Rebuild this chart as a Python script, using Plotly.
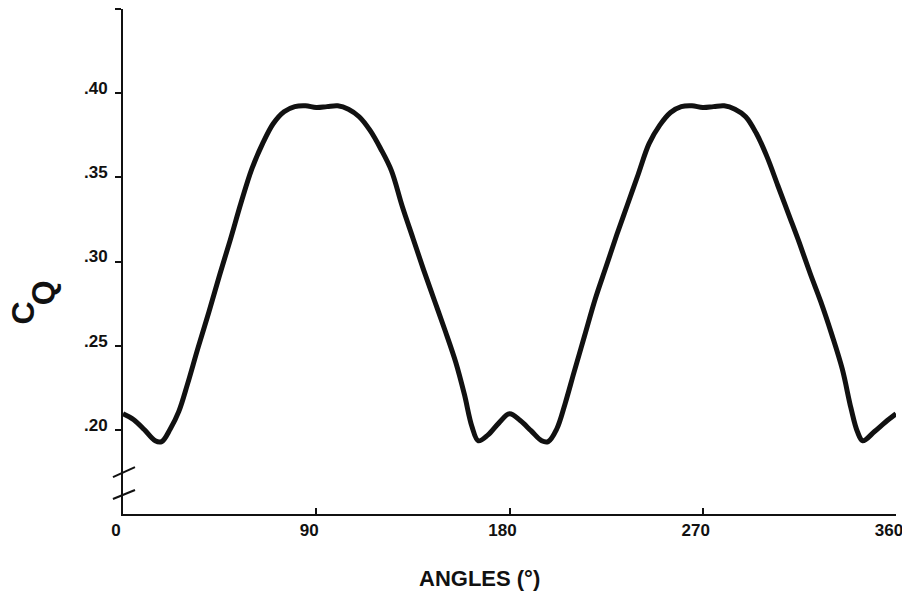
import plotly.graph_objects as go

# Data
angles = [0, 5, 10, 15, 18, 22, 26, 30, 35, 40, 45, 50, 55, 60, 65, 70, 75, 80, 85, 90, 95, 100,
          105, 110, 115, 120, 125, 130, 135, 140, 145, 150, 155, 159, 162.5, 165.5, 170, 175, 180,
          185, 190, 195, 198, 202, 206, 210, 215, 220, 225, 230, 235, 240, 245, 250, 255, 260,
          265, 270, 275, 280, 285, 290, 295, 300, 305, 310, 315, 320, 325, 330, 335, 339, 342,
          344.5, 350, 355, 360]
cq = [0.2095, 0.206, 0.200, 0.1935, 0.193, 0.2005, 0.211, 0.227, 0.249, 0.270, 0.292, 0.313, 0.335, 0.355, 0.370, 0.382, 0.389, 0.392, 0.3925, 0.3915, 0.392, 0.3925,
      0.3905, 0.386, 0.378, 0.367, 0.354, 0.333, 0.314, 0.295, 0.277, 0.259, 0.240, 0.221, 0.202, 0.1935, 0.197, 0.204, 0.2095,
      0.2055, 0.1995, 0.1935, 0.193, 0.2005, 0.216, 0.234, 0.256, 0.278, 0.297, 0.316, 0.334, 0.352, 0.370, 0.381, 0.3885, 0.392,
      0.3925, 0.3915, 0.392, 0.3925, 0.3905, 0.386, 0.376, 0.362, 0.345, 0.328, 0.311, 0.293, 0.276, 0.257, 0.236, 0.213, 0.199,
      0.1935, 0.199, 0.2045, 0.2095]

x_tickvals = [0, 90, 180, 270, 360]
x_ticktext = ["0", "90", "180", "270", "360"]
y_tickvals = [0.20, 0.25, 0.30, 0.35, 0.40, 0.45]
y_ticktext = [".20", ".25", ".30", ".35", ".40", ""]

FONT = "'Liberation Sans Narrow', 'Arial Narrow', 'Liberation Sans', Arial, sans-serif"
INK = "#111111"

fig = go.Figure()
fig.add_trace(go.Scatter(
    x=angles, y=cq, mode="lines",
    line=dict(color=INK, width=5, shape="spline", smoothing=1.0),
    hoverinfo="skip", showlegend=False,
))

fig.update_layout(
    width=902, height=616,
    margin=dict(l=123, r=6, t=9, b=102),
    paper_bgcolor="white", plot_bgcolor="white",
    font=dict(family=FONT, color=INK),
    showlegend=False,
)

fig.update_xaxes(
    range=[0, 360], tickvals=x_tickvals, ticktext=x_ticktext,
    showgrid=False, zeroline=False, automargin=False,
    showline=True, linecolor=INK, linewidth=2,
    ticks="inside", ticklen=6, tickwidth=2, tickcolor=INK,
    tickfont=dict(family=FONT, size=17, color=INK, weight="bold"),
    ticklabelstandoff=0, ticklabelshift=-7, ticklabeloverflow="allow",
)
fig.update_yaxes(
    range=[0.15, 0.45], tickvals=y_tickvals, ticktext=y_ticktext,
    showgrid=False, zeroline=False, automargin=False,
    showline=True, linecolor=INK, linewidth=2,
    ticks="outside", ticklen=6, tickwidth=2, tickcolor=INK,
    tickfont=dict(family=FONT, size=17, color=INK, weight="bold"),
    ticklabelstandoff=4, ticklabelshift=-5, ticklabeloverflow="allow",
)

# axis titles
fig.add_annotation(text="ANGLES (°)", xref="paper", yref="paper", x=0.461, y=0,
                   xanchor="center", yanchor="middle", yshift=-64, showarrow=False,
                   font=dict(family=FONT, size=22, color=INK, weight="bold"))
fig.add_annotation(text="C", xref="paper", yref="paper", x=0, y=0.397,
                   xanchor="center", yanchor="middle", xshift=-100, textangle=-90,
                   showarrow=False, font=dict(family=FONT, size=32, color=INK, weight="bold"))
fig.add_annotation(text="Q", xref="paper", yref="paper", x=0, y=0.437,
                   xanchor="center", yanchor="middle", xshift=-80, textangle=-90,
                   showarrow=False, font=dict(family=FONT, size=32, color=INK, weight="bold"))

# axis break marks
for y0, y1 in [(0.073, 0.093), (0.0297, 0.0475)]:
    fig.add_shape(type="line", xref="paper", yref="paper",
                  x0=-0.013, x1=0.0155, y0=y0, y1=y1,
                  line=dict(color=INK, width=2))

fig.write_html("out.html", config={"displayModeBar": False},
               post_script="document.body.style.margin='0px';")
